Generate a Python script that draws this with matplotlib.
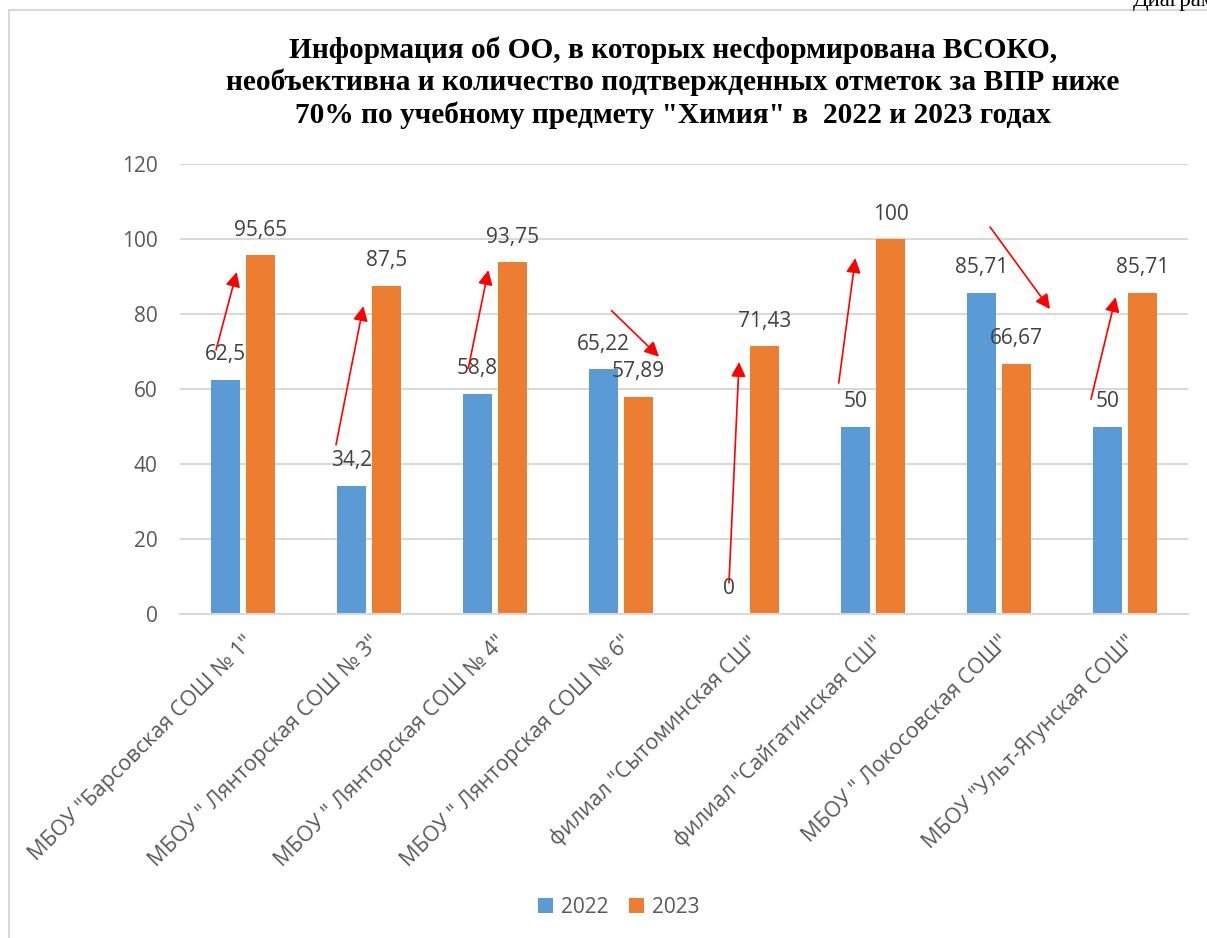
import numpy as np
import matplotlib
matplotlib.use("Agg")
import matplotlib.pyplot as plt
from matplotlib.patches import Rectangle

# Chart data
schools = ['МБОУ "Барсовская СОШ № 1"', 'МБОУ " Лянторская СОШ № 3"',
           'МБОУ " Лянторская СОШ № 4"', 'МБОУ " Лянторская СОШ № 6"',
           'филиал "Сытоминская СШ"', 'филиал "Сайгатинская СШ"',
           'МБОУ " Локосовская СОШ"', 'МБОУ "Ульт-Ягунская СОШ"']
vals_2022 = [62.5, 34.2, 58.8, 65.22, 0, 50, 85.71, 50]
vals_2023 = [95.65, 87.5, 93.75, 57.89, 71.43, 100, 66.67, 85.71]
years = ["2022", "2023"]

# red hand-drawn arrows (offset from category centre, value)
arrow_dx0 = [-0.214, -0.262, -0.212, -0.075, -0.143, -0.272, -0.071, -0.270]
arrow_y0 = [70.4, 45.1, 65.5, 80.9, 8.3, 61.6, 103.2, 57.3]
arrow_dx1 = [-0.05, -0.045, -0.053, 0.302, -0.063, -0.14, 0.405, -0.074]
arrow_y1 = [91.2, 82.1, 91.7, 68.6, 67.2, 94.9, 81.3, 84.5]

blue = "#5B9BD5"
orange = "#ED7D31"
txt_col = "#404040"
tick_col = "#595959"
sans = "Open Sans"

fig = plt.figure(figsize=(12.07, 9.38), dpi=100)
ax = fig.add_axes([180 / 1207, 1 - 614 / 938, 1008 / 1207, 450 / 938])

x = np.arange(len(schools))
w = 0.23
b1 = ax.bar(x - 0.14, vals_2022, w, color=blue, label=years[0], zorder=2)
b2 = ax.bar(x + 0.14, vals_2023, w, color=orange, label=years[1], zorder=2)

def fmt(v):
    return f"{v:g}".replace(".", ",")

for bars, vals in ((b1, vals_2022), (b2, vals_2023)):
    for rect, v in zip(bars, vals):
        ax.annotate(fmt(v), (rect.get_x() + rect.get_width() / 2, v),
                    xytext=(0, 18), textcoords="offset points",
                    ha="center", va="center", fontsize=15, color=txt_col,
                    family=sans, zorder=4)

for i in range(len(schools)):
    ax.annotate("", xy=(i + arrow_dx1[i], arrow_y1[i]),
                xytext=(i + arrow_dx0[i], arrow_y0[i]),
                arrowprops=dict(arrowstyle="-|>", color="red", lw=1.2,
                                mutation_scale=22, shrinkA=0, shrinkB=0),
                zorder=5)

ax.set_xlim(-0.5, len(schools) - 0.5)
ax.set_ylim(0, 120)
ax.set_yticks(np.arange(0, 121, 20))
ax.yaxis.grid(True, color="#D9D9D9", lw=1.5, zorder=0)
ax.set_axisbelow(True)
for s in ["left", "right", "top"]:
    ax.spines[s].set_visible(False)
ax.spines["bottom"].set_color("#D9D9D9")
ax.spines["bottom"].set_linewidth(1.5)
ax.tick_params(axis="y", length=0, pad=16, labelsize=15, labelcolor=tick_col)
ax.tick_params(axis="x", length=0, pad=13, labelsize=15.5, labelcolor=tick_col)
for lab in ax.get_yticklabels():
    lab.set_family(sans)
ax.set_xticks(x)
ax.set_xticklabels(schools, rotation=45, ha="right", va="top",
                   rotation_mode="anchor", family=sans)

# title
fig.text(673 / 1207, 1 - 36 / 938,
         "Информация об ОО, в которых несформирована ВСОКО,\n"
         "необъективна и количество подтвержденных отметок за ВПР ниже\n"
         "70% по учебному предмету \"Химия\" в  2022 и 2023 годах",
         ha="center", va="top", fontsize=21.2, fontweight="bold",
         family="Liberation Serif", linespacing=1.24)

# cut-off caption of the document above the chart
fig.text(1133 / 1207, 1 - 6 / 938, "Диаграмма", ha="left", va="baseline",
         fontsize=16.5, family="Liberation Serif", color="black")

# chart frame
fig.patches.append(Rectangle((9 / 1207, -0.01), 1.0, 1 - 10 / 938 + 0.01,
                             transform=fig.transFigure, fill=False,
                             edgecolor="#D9D9D9", lw=1.5))

leg = fig.legend(handles=[b1, b2], labels=years, loc="center",
                 bbox_to_anchor=(619 / 1207, 1 - 907 / 938), ncol=2,
                 frameon=False, handlelength=0.7, handleheight=0.7,
                 handletextpad=0.4, columnspacing=1.0,
                 prop={"family": sans, "size": 15})
for t in leg.get_texts():
    t.set_color(tick_col)

fig.savefig("out.png", dpi=100)
